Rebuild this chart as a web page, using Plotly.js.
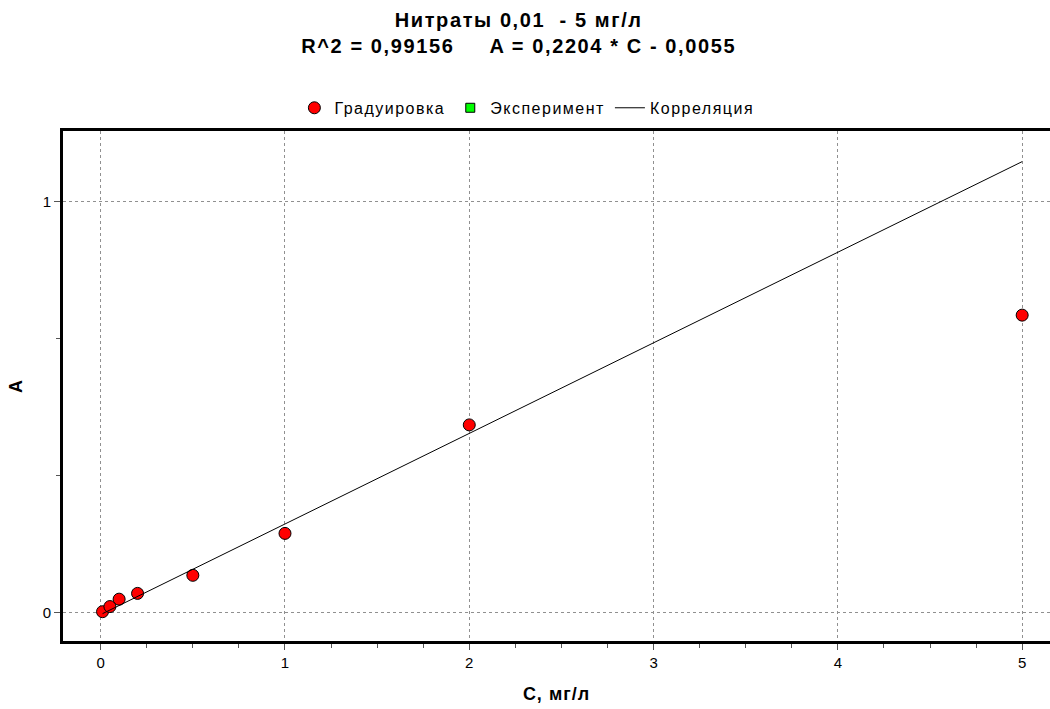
<!DOCTYPE html>
<html>
<head>
<meta charset="utf-8">
<script src="https://cdn.plot.ly/plotly-3.0.1.min.js"></script>
<style>
html,body{margin:0;padding:0;background:#fff;}
#chart{width:1050px;height:709px;}
.gtitle{letter-spacing:1.6px;}
.legendtext{letter-spacing:1.5px;}
.xtitle,.ytitle{letter-spacing:1px;}
</style>
</head>
<body>
<div id="chart"></div>
<script>
// Calibration points (Градуировка)
const calibC = [0.01, 0.05, 0.1, 0.2, 0.5, 1, 2, 5];
const calibA = [0.0015, 0.014, 0.032, 0.046, 0.090, 0.192, 0.456, 0.723];
// Experiment points (Эксперимент) – none plotted
const expC = [null];
const expA = [null];
// Correlation line endpoints (Корреляция)
const corrC = [0.01, 5];
const corrA = [-0.0033, 1.0965];
// Axis ticks
const xTicks = [0, 1, 2, 3, 4, 5];
const yTicks = [0, 1];

const titleText = 'Нитраты 0,01&nbsp; - 5 мг/л<br>R^2 = 0,99156&nbsp;&nbsp;&nbsp;&nbsp; A = 0,2204 * C - 0,0055';

const traces = [
  {x: calibC, y: calibA, type: 'scatter', mode: 'markers', name: 'Градуировка',
   marker: {symbol: 'circle', size: 12, color: '#ff0000', line: {color: '#000', width: 1}}},
  {x: expC, y: expA, type: 'scatter', mode: 'markers', name: 'Эксперимент',
   marker: {symbol: 'square', size: 9, color: '#00ff00', line: {color: '#000', width: 1}}},
  {x: corrC, y: corrA, type: 'scatter', mode: 'lines', name: 'Корреляция',
   line: {color: '#000', width: 1}}
];

const fam = '"Liberation Sans", Arial, sans-serif';
const font = {family: fam, size: 14, color: '#000'};

const layout = {
  width: 1050, height: 709,
  paper_bgcolor: '#fff', plot_bgcolor: '#fff',
  font: font,
  margin: {l: 63, r: 0, t: 131, b: 68},
  title: {text: titleText, x: 0.494, xanchor: 'center', y: 0.962, yanchor: 'top',
          font: {family: fam, size: 20, color: '#000', weight: 'bold'}},
  showlegend: true,
  legend: {orientation: 'h', x: 0.47, xanchor: 'center', y: 1.012, yanchor: 'bottom',
           bgcolor: 'rgba(0,0,0,0)',
           font: {family: fam, size: 16, color: '#000'}, itemwidth: 30, tracegroupgap: 0},
  xaxis: {
    range: [-0.2045, 5.151], tickvals: xTicks, ticktext: xTicks.map(String),
    showline: true, linecolor: '#000', linewidth: 3, mirror: true,
    ticks: 'outside', ticklen: 6, tickwidth: 1, tickcolor: '#555',
    minor: {dtick: 0.25, tick0: 0, ticks: 'outside', ticklen: 4, tickcolor: '#555', showgrid: false},
    showgrid: true, gridcolor: '#909090', griddash: '3px,3px', gridwidth: 1,
    zeroline: false, tickfont: {family: fam, size: 15, color: '#000'},
    title: {text: 'C, мг/л', font: {family: fam, size: 18, weight: 'bold', color: '#000'}, standoff: 18}
  },
  yaxis: {
    range: [-0.0698, 1.171], tickvals: yTicks, ticktext: yTicks.map(String),
    showline: true, linecolor: '#000', linewidth: 3, mirror: false,
    ticks: 'outside', ticklen: 6, tickwidth: 1, tickcolor: '#555',
    minor: {dtick: 1/3, tick0: 0, ticks: 'outside', ticklen: 4, tickcolor: '#555', showgrid: false},
    showgrid: true, gridcolor: '#909090', griddash: '3px,3px', gridwidth: 1,
    zeroline: false, tickfont: {family: fam, size: 15, color: '#000'},
    title: {text: 'A', font: {family: fam, size: 18, weight: 'bold', color: '#000'}, standoff: 16}
  }
};

Plotly.newPlot('chart', traces, layout, {displayModeBar: false, staticPlot: true});
</script>
</body>
</html>
